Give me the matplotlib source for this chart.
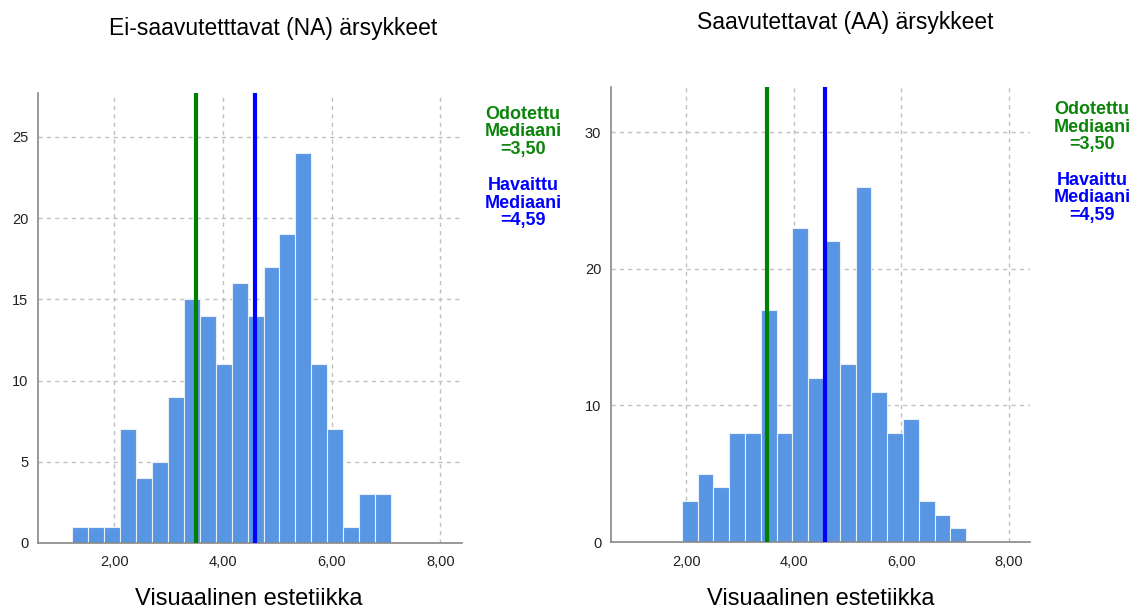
import numpy as np
import matplotlib.pyplot as plt

plt.rcParams['font.family'] = ['Liberation Sans', 'DejaVu Sans']

# histogram counts
na_counts = [1, 1, 1, 7, 4, 5, 9, 15, 14, 11, 16, 14, 17, 19, 24, 11, 7, 1, 3, 3]
aa_counts = [3, 5, 4, 8, 8, 17, 8, 23, 12, 22, 13, 26, 11, 8, 9, 3, 2, 1]
na_bin_start, na_bin_width = 1.233, 0.293
aa_bin_start, aa_bin_width = 1.92, 0.294

expected_median = 3.50
observed_median = 4.59

x_ticks = [2, 4, 6, 8]
x_ticklabels = ["2,00", "4,00", "6,00", "8,00"]
na_yticks = [0, 5, 10, 15, 20, 25]
aa_yticks = [0, 10, 20, 30]

titles = ["Ei-saavutetttavat (NA) ärsykkeet", "Saavutettavat (AA) ärsykkeet"]
xlabel = "Visuaalinen estetiikka"

BAR = "#5895e2"
GREEN = "#0a840a"
BLUE = "#0000ff"
GRID = "#c0c0c0"

W, H = 1135, 610
fig = plt.figure(figsize=(W / 100, H / 100), dpi=100)


def px_axes(x0, y0, x1, y1):
    return fig.add_axes([x0 / W, 1 - y1 / H, (x1 - x0) / W, (y1 - y0) / H])


def fmt(v):
    return ("%.2f" % v).replace(".", ",")


def draw_hist(ax, counts, start, width, yticks, ytop):
    edges = start + width * np.arange(len(counts))
    ax.bar(edges, counts, width=width, align="edge", color=BAR,
           edgecolor="#e8f0fb", linewidth=0.8, zorder=2)
    ax.axvline(expected_median, color="#008000", lw=3, zorder=3)
    ax.axvline(observed_median, color=BLUE, lw=3, zorder=3)
    ax.set_xlim(0.6, 8.4)
    ax.set_ylim(0, ytop)
    ax.set_xticks(x_ticks)
    ax.set_xticklabels(x_ticklabels)
    ax.set_yticks(yticks)
    ax.tick_params(length=0, labelsize=10.5, colors="#222222")
    ax.tick_params(axis="x", pad=9)
    ax.tick_params(axis="y", pad=7)
    ax.grid(True, color=GRID, linestyle=(0, (3, 3)), lw=1, zorder=0)
    ax.set_axisbelow(True)
    for s in ["top", "right"]:
        ax.spines[s].set_visible(False)
    for s in ["left", "bottom"]:
        ax.spines[s].set_color("#888888")
        ax.spines[s].set_linewidth(1.2)


ax1 = px_axes(38, 93, 462, 543)
draw_hist(ax1, na_counts, na_bin_start, na_bin_width, na_yticks, 27.7)
ax2 = px_axes(611, 87, 1030, 542)
draw_hist(ax2, aa_counts, aa_bin_start, aa_bin_width, aa_yticks, 33.3)

# titles and axis labels
fig.text(273 / W, 1 - 28 / H, titles[0], ha="center", va="center", fontsize=16.5)
fig.text(845 / W, 1 - 22 / H, titles[1], ha="center", va="center", fontsize=16.5)
fig.text(249 / W, 1 - 599 / H, xlabel, ha="center", va="center", fontsize=17)
fig.text(821 / W, 1 - 599 / H, xlabel, ha="center", va="center", fontsize=17)

# median annotations
for cx, gy, by in [(523, 132, 203), (1092, 127, 198)]:
    fig.text(cx / W, 1 - gy / H, "Odotettu\nMediaani\n=" + fmt(expected_median),
             ha="center", va="center", fontsize=13, fontweight="bold",
             color=GREEN, linespacing=1.05)
    fig.text(cx / W, 1 - by / H, "Havaittu\nMediaani\n=" + fmt(observed_median),
             ha="center", va="center", fontsize=13, fontweight="bold",
             color=BLUE, linespacing=1.05)

fig.savefig("out.png", dpi=100)
